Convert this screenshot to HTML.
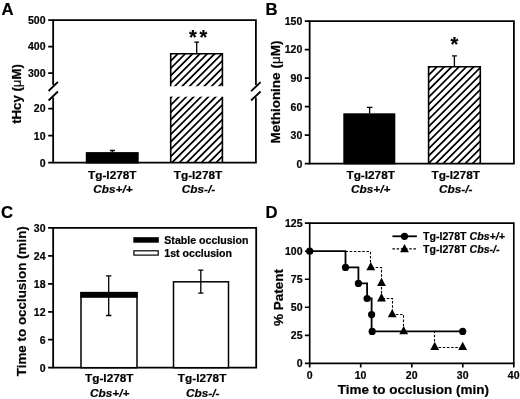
<!DOCTYPE html>
<html><head><meta charset="utf-8">
<style>
html,body{margin:0;padding:0;background:#fff;}
svg{display:block;will-change:transform;}
text{font-family:"Liberation Sans",sans-serif;font-weight:bold;fill:#000;stroke:#000;stroke-width:0.2px;}
.tk{font-size:10.5px;}
.cat{font-size:11.8px;}
.ttl{font-size:13px;}
.pl{font-size:16.7px;}
.lg{font-size:10.6px;}
.axd{stroke-width:1.65 !important;}
.ax{stroke:#000;stroke-width:1.8;fill:none;stroke-linecap:butt;}
.eb{stroke:#000;stroke-width:1.3;fill:none;}
.mu{font-weight:normal;}
.it{font-style:italic;}
</style></head>
<body>
<svg width="520" height="399" viewBox="0 0 520 399">
<defs>
<pattern id="h" width="5.2" height="5.2" patternUnits="userSpaceOnUse" patternTransform="rotate(-45)">
<line x1="-1" y1="2.6" x2="7" y2="2.6" stroke="#000" stroke-width="1.7"/>
</pattern>
</defs>
<rect width="520" height="399" fill="#fff"/>

<!-- ===== Panel A ===== -->
<g id="A">
<text class="pl" x="1.6" y="14.8">A</text>
<path class="ax" d="M53.15 85V20.1H255.9V85M53.15 97.5V162.7H255.9V97.5"/>
<path class="ax" d="M48.6 91L57.9 81.8M48.6 100.5L57.9 91.5M251.1 91.2L260.6 82.2M251.1 100.5L260.6 91.5"/>
<path class="ax" d="M48.2 20.1H53.15M48.2 46.6H53.15M48.2 73.2H53.15M48.2 108.7H53.15M48.2 135.7H53.15M48.2 162.7H53.15"/>
<g class="tk" text-anchor="end">
<text x="45.5" y="23.8">500</text><text x="45.5" y="50.3">400</text><text x="45.5" y="77">300</text>
<text x="45.5" y="112.4">20</text><text x="45.5" y="139.5">10</text><text x="45.5" y="166.5">0</text>
</g>
<text class="ttl" transform="translate(21.3,94) rotate(-90)" text-anchor="middle" style="font-size:13.2px">tHcy (<tspan class="mu">μ</tspan>M)</text>
<rect x="85.8" y="152.1" width="52.9" height="11.4" fill="#000"/>
<path class="eb" d="M112.3 152.1V150.5M109.9 150.5H114.9"/>
<rect x="170.5" y="53.5" width="52" height="32.7" fill="url(#h)"/>
<rect x="170.5" y="96.7" width="52" height="66" fill="url(#h)"/>
<path class="eb" style="stroke-width:1.6" d="M170.7 86.2V53.7H222.4V86.2M170.7 96.7V162.7M222.4 96.7V162.7"/>
<path class="eb" d="M196.7 53.5V42.2M194.3 42.2H199.1"/>
<text x="189" y="44.1" style="font-size:20px;letter-spacing:2.6px">**</text>
<g class="cat" text-anchor="middle">
<text x="112.3" y="178.9">Tg-I278T</text><text x="112.9" y="193.1" class="it">Cbs+/+</text>
<text x="198" y="178.9">Tg-I278T</text><text x="198.5" y="193.1" class="it">Cbs-/-</text>
</g>
</g>

<!-- ===== Panel B ===== -->
<g id="B">
<text class="pl" x="265.6" y="14.7">B</text>
<path class="ax" d="M309.65 21.1H513.9V163.7H309.65Z"/>
<path class="ax" d="M304.8 21.1H309.65M304.8 49.6H309.65M304.8 78.1H309.65M304.8 106.7H309.65M304.8 135.2H309.65M304.8 163.7H309.65"/>
<g class="tk" text-anchor="end">
<text x="302.3" y="24.9">150</text><text x="302.3" y="53.4">120</text><text x="302.3" y="81.9">90</text>
<text x="302.3" y="110.5">60</text><text x="302.3" y="139">30</text><text x="302.3" y="167.5">0</text>
</g>
<text class="ttl" transform="translate(280.2,92.1) rotate(-90)" text-anchor="middle" style="font-size:13.5px">Methionine (<tspan class="mu">μ</tspan>M)</text>
<rect x="343.3" y="113.3" width="52" height="51" fill="#000"/>
<path class="eb" d="M369.6 113.3V107.4M366.9 107.4H372.4"/>
<rect x="428.2" y="66.5" width="52.2" height="97.2" fill="url(#h)"/>
<path class="eb" style="stroke-width:1.6" d="M428.6 163.7V66.7H480.3V163.7"/>
<path class="eb" d="M454.4 66.5V55.9M452 55.9H456.9"/>
<text x="454.4" y="50.6" text-anchor="middle" style="font-size:20px">*</text>
<g class="cat" text-anchor="middle">
<text x="370.7" y="178.6">Tg-I278T</text><text x="370.7" y="192.9" class="it">Cbs+/+</text>
<text x="455.7" y="178.6">Tg-I278T</text><text x="455.7" y="192.9" class="it">Cbs-/-</text>
</g>
</g>

<!-- ===== Panel C ===== -->
<g id="C">
<text class="pl" x="0.9" y="218">C</text>
<path class="ax" d="M53.15 227.9H256.2V367.7H53.15Z"/>
<path class="ax" d="M48.1 227.9H53.15M48.1 255.9H53.15M48.1 283.8H53.15M48.1 311.8H53.15M48.1 339.7H53.15M48.1 367.7H53.15"/>
<g class="tk" text-anchor="end">
<text x="45.5" y="231.8">30</text><text x="45.5" y="259.8">24</text><text x="45.5" y="287.7">18</text>
<text x="45.5" y="315.6">12</text><text x="45.5" y="343.6">6</text><text x="45.5" y="371.5">0</text>
</g>
<text class="ttl" transform="translate(25.6,301.2) rotate(-90)" text-anchor="middle" style="font-size:13.4px">Time to occlusion (min)</text>
<rect x="81" y="292.6" width="56" height="75.1" fill="#fff" stroke="#000" stroke-width="1.5"/>
<rect x="80.35" y="292" width="57.3" height="5.8" fill="#000"/>
<path class="eb" d="M108.7 275.9V315.5M106 275.9H111.4M106 315.5H111.4"/>
<rect x="173.5" y="281.8" width="55" height="85.9" fill="#fff" stroke="#000" stroke-width="1.5"/>
<path class="eb" d="M200.8 270.1V293.1M198.2 270.1H203.4M198.2 293.1H203.4"/>
<rect x="133.3" y="237.2" width="25.5" height="5.5" fill="#000"/>
<rect x="133.9" y="250.8" width="24.3" height="4.3" fill="#fff" stroke="#000" stroke-width="1.2"/>
<text class="lg" x="164.3" y="244.1">Stable occlusion</text>
<text class="lg" x="164.3" y="257.1">1st occlusion</text>
<g class="cat" text-anchor="middle">
<text x="109.3" y="382.4">Tg-I278T</text><text x="109.7" y="396.9" class="it">Cbs+/+</text>
<text x="202.1" y="382.4">Tg-I278T</text><text x="202.8" y="396.9" class="it">Cbs-/-</text>
</g>
</g>

<!-- ===== Panel D ===== -->
<g id="D">
<text class="pl" x="265.5" y="218.2">D</text>
<path class="ax axd" d="M309.7 223.1H513.8V363.3H309.7Z"/>
<path class="ax axd" d="M304.9 223.1H309.7M304.9 251.2H309.7M304.9 279.2H309.7M304.9 307.2H309.7M304.9 335.3H309.7M304.9 363.3H309.7"/>
<path class="ax axd" d="M309.7 363.3V367.6M360.7 363.3V367.6M411.8 363.3V367.6M462.8 363.3V367.6M513.8 363.3V367.6"/>
<g class="tk" text-anchor="end">
<text x="302.5" y="226.9">125</text><text x="302.5" y="255">100</text><text x="302.5" y="283">75</text>
<text x="302.5" y="311">50</text><text x="302.5" y="339.1">25</text><text x="302.5" y="367.1">0</text>
</g>
<g class="tk" text-anchor="middle">
<text x="309.6" y="379.3">0</text><text x="360.6" y="379.3">10</text><text x="411.7" y="379.3">20</text><text x="462.7" y="379.3">30</text><text x="513.7" y="379.3">40</text>
</g>
<text class="ttl" transform="translate(283,297.4) rotate(-90)" text-anchor="middle" style="font-size:13.5px">% Patent</text>
<text class="ttl" x="413.3" y="393.8" text-anchor="middle" style="font-size:13.5px">Time to occlusion (min)</text>
<!-- dashed series -->
<path d="M345.5 251.5H370.5V267.5H381.5V298.5H392.5V314.5H403.5V331.5H434.5V347.5H462.7" fill="none" stroke="#000" stroke-width="1.1" stroke-dasharray="2.5 1.7"/>
<g fill="#000">
<path id="t" d="M0 -5.4L4.4 2.9H-4.4Z" transform="translate(370.8,267.3)"/>
<path d="M0 -5.4L4.4 2.9H-4.4Z" transform="translate(381.5,283.2)"/>
<path d="M0 -5.4L4.4 2.9H-4.4Z" transform="translate(381.5,298.5)"/>
<path d="M0 -5.4L4.4 2.9H-4.4Z" transform="translate(392.2,314.4)"/>
<path d="M0 -5.4L4.4 2.9H-4.4Z" transform="translate(403.7,331.3)"/>
<path d="M0 -5.4L4.4 2.9H-4.4Z" transform="translate(434.7,347.2)"/>
<path d="M0 -5.4L4.4 2.9H-4.4Z" transform="translate(462.7,347.2)"/>
</g>
<!-- solid series -->
<path d="M309.7 251.2H345.5V267.4H358.4V283.4H367.1V298.5H371.6V331.4H462.7" fill="none" stroke="#000" stroke-width="1.8"/>
<g fill="#000">
<circle cx="309.7" cy="251.2" r="3.6"/><circle cx="345.5" cy="267.4" r="3.6"/><circle cx="358.4" cy="283.4" r="3.6"/>
<circle cx="367.1" cy="298.5" r="3.6"/><circle cx="371.6" cy="314.6" r="3.6"/><circle cx="372.2" cy="331.4" r="3.6"/>
<circle cx="462.7" cy="331.4" r="3.6"/>
</g>
<!-- legend -->
<path d="M392.4 236.3H416.9" stroke="#000" stroke-width="1.8"/>
<circle cx="404.5" cy="236.3" r="3.6"/>
<path d="M392.4 248.9H416.9" stroke="#000" stroke-width="1.1" stroke-dasharray="2.5 1.7"/>
<path d="M0 -5.4L4.4 2.9H-4.4Z" transform="translate(404.5,249.4)"/>
<text class="lg" x="423" y="240.4">Tg-I278T <tspan class="it">Cbs+/+</tspan></text>
<text class="lg" x="423" y="253.2">Tg-I278T <tspan class="it">Cbs-/-</tspan></text>
</g>
</svg>
</body></html>
